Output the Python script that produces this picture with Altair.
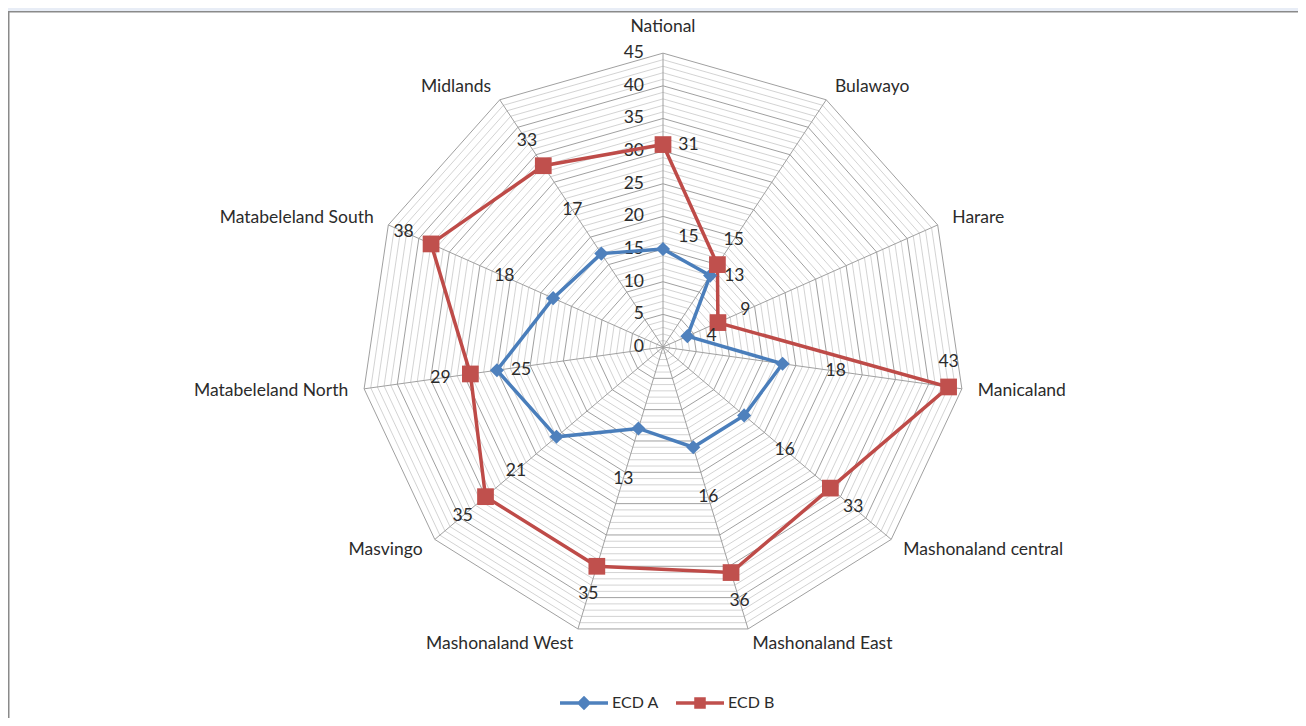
import altair as alt
import pandas as pd

# ---------------- data ----------------
categories = [
    "National", "Bulawayo", "Harare", "Manicaland", "Mashonaland central",
    "Mashonaland East", "Mashonaland West", "Masvingo", "Matabeleland North",
    "Matabeleland South", "Midlands",
]
ecd_a = [15, 13, 4, 18, 16, 16, 13, 21, 25, 18, 17]
ecd_b = [31, 15, 9, 43, 33, 36, 35, 35, 29, 38, 33]
series_names = ["ECD A", "ECD B"]
tick_values = [0, 5, 10, 15, 20, 25, 30, 35, 40, 45]
ring_values = list(range(1, 46))

# ---------------- style / layout ----------------
series_colors = ["#4A7EBB", "#BE4B48"]
marker_colors = ["#4F81BD", "#C0504D"]
FONT = "Lato"
FS = 17.5
TXT = "#2b2b2b"
W, H = 1290, 710
CX, CY = 655, 339          # centre of the radar inside the chart
PX, PY = 6.71, 6.53        # pixels per value unit (x, y)
N = len(categories)
RMAX = max(tick_values)

x_scale = alt.Scale(domain=[-CX / PX, (W - CX) / PX], nice=False, zero=False)
y_scale = alt.Scale(domain=[-(H - CY) / PY, CY / PY], nice=False, zero=False)
ANG = f"2*PI*datum.idx/{N}"


def xy(xf, yf):
    return dict(
        x=alt.X(f"{xf}:Q", scale=x_scale, axis=None),
        y=alt.Y(f"{yf}:Q", scale=y_scale, axis=None),
    )


# ---------------- tables built from the lists ----------------
series_rows = []
for s, vals in zip(series_names, [ecd_a, ecd_b]):
    for k in range(N + 1):
        series_rows.append({"series": s, "order": k, "idx": k % N,
                            "value": vals[k % N], "category": categories[k % N]})
series_df = pd.DataFrame(series_rows)

ring_rows = []
for r in ring_values:
    for k in range(N + 1):
        ring_rows.append({"ring": r, "order": k, "idx": k % N, "major": r % 5 == 0})
ring_df = pd.DataFrame(ring_rows)

cat_df = pd.DataFrame({"idx": list(range(N)), "category": categories,
                       "a": ecd_a, "b": ecd_b})
tick_df = pd.DataFrame({"tick": tick_values})

# ---------------- grid ----------------
def ring_layer(flt, color, width):
    return (
        alt.Chart(ring_df)
        .transform_filter(flt)
        .transform_calculate(x=f"datum.ring*sin({ANG})", y=f"datum.ring*cos({ANG})")
        .mark_line(color=color, strokeWidth=width)
        .encode(**xy("x", "y"), detail="ring:N", order="order:Q")
    )


minor = ring_layer("!datum.major", "#c8c8c8", 0.8)
major = ring_layer("datum.major", "#a0a0a0", 1)

spokes = (
    alt.Chart(cat_df)
    .transform_calculate(x0="0", y0="0",
                         x1=f"{RMAX}*sin({ANG})", y1=f"{RMAX}*cos({ANG})")
    .mark_rule(color="#a0a0a0", strokeWidth=1)
    .encode(**xy("x0", "y0"), x2="x1:Q", y2="y1:Q")
)

ticks = (
    alt.Chart(tick_df)
    .transform_calculate(x="0")
    .mark_text(align="right", baseline="middle", dx=-19, font=FONT,
               fontSize=FS, color=TXT)
    .encode(**xy("x", "tick"), text="tick:Q")
)

cat_base = (
    alt.Chart(cat_df)
    .transform_calculate(s=f"sin({ANG})", c=f"cos({ANG})")
    .transform_calculate(lr="datum.idx == 0 ? 49 : 47.4")
    .transform_calculate(lx="datum.lr*datum.s", ly="datum.lr*datum.c")
)


def cat_layer(flt, align):
    return (
        cat_base.transform_filter(flt)
        .mark_text(align=align, baseline="middle", font=FONT, fontSize=FS, color=TXT)
        .encode(**xy("lx", "ly"), text="category:N")
    )


cat_left = cat_layer("datum.s > 0.01", "left")
cat_right = cat_layer("datum.s < -0.01", "right")
cat_center = cat_layer("abs(datum.s) <= 0.01", "center")

# ---------------- series ----------------
series_layers = []
for s, col in zip(series_names, series_colors):
    series_layers.append(
        alt.Chart(series_df)
        .transform_filter(f"datum.series == '{s}'")
        .transform_calculate(x=f"datum.value*sin({ANG})", y=f"datum.value*cos({ANG})")
        .mark_line(color=col, strokeWidth=3.5)
        .encode(**xy("x", "y"), order="order:Q")
    )

point_layers = []
for s, col, shp, size in zip(series_names, marker_colors, ["diamond", "square"], [200, 280]):
    point_layers.append(
        alt.Chart(series_df)
        .transform_filter(f"datum.series == '{s}' && datum.order < {N}")
        .transform_calculate(x=f"datum.value*sin({ANG})", y=f"datum.value*cos({ANG})")
        .mark_point(shape=shp, filled=True, size=size, color=col, opacity=1)
        .encode(**xy("x", "y"))
    )

lab_base = alt.Chart(cat_df).transform_calculate(s=f"sin({ANG})", c=f"cos({ANG})")

lab_b = (
    lab_base.transform_calculate(
        lx="datum.idx == 0 ? datum.b*datum.s + 3.8 : (datum.b + 4.5 <= 45 ? (datum.b + 4.5)*datum.s : datum.b*datum.s)",
        ly="datum.idx == 0 ? datum.b*datum.c : (datum.b + 4.5 <= 45 ? (datum.b + 4.5)*datum.c : datum.b*datum.c + 3.8)",
    )
    .mark_text(align="center", baseline="middle", font=FONT, fontSize=FS, color=TXT)
    .encode(**xy("lx", "ly"), text="b:Q")
)

lab_a = (
    lab_base.transform_calculate(gap="datum.b - datum.a")
    .transform_calculate(
        lx="datum.idx == 0 ? datum.a*datum.s + 3.8 : (datum.gap >= 10 ? (datum.a + 8)*datum.s : datum.a*datum.s + 3.6)",
        ly="datum.idx == 0 ? datum.a*datum.c + 1.8 : (datum.gap >= 10 ? (datum.a + 8)*datum.c : datum.a*datum.c)",
    )
    .mark_text(align="center", baseline="middle", font=FONT, fontSize=FS, color=TXT)
    .encode(**xy("lx", "ly"), text="a:Q")
)

# ---------------- legend (line + marker symbols) ----------------
path_a = "M-1,-0.075H1V0.075H-1Z M0,-0.3L0.3,0L0,0.3L-0.3,0Z"
path_b = "M-1,-0.075H1V0.075H-1Z M-0.24,-0.24H0.24V0.24H-0.24Z"
leg = alt.Legend(
    title=None, orient="none", legendX=552, legendY=671, direction="horizontal",
    symbolSize=2304, symbolStrokeWidth=0, symbolOpacity=1,
    labelFont=FONT, labelFontSize=16, labelColor=TXT, labelOffset=4,
    columnPadding=17, padding=0,
)
legend_layer = (
    alt.Chart(series_df)
    .transform_filter("false")
    .mark_point(filled=True, opacity=1)
    .encode(
        **xy("value", "value"),
        color=alt.Color("series:N", scale=alt.Scale(domain=series_names, range=marker_colors), legend=leg),
        shape=alt.Shape("series:N", scale=alt.Scale(domain=series_names, range=[path_a, path_b]), legend=leg),
    )
)

# ---------------- window frame ----------------
frame_data = alt.Data(values=[{"k": 0}])
band = alt.Chart(frame_data).mark_rect(color="#E8EDF6").encode(
    x=alt.value(0), x2=alt.value(W), y=alt.value(0), y2=alt.value(3))
top_line = alt.Chart(frame_data).mark_rule(color="#8a8a8a", strokeWidth=1.5).encode(
    x=alt.value(0), x2=alt.value(W), y=alt.value(3.75))
left_line = alt.Chart(frame_data).mark_rule(color="#8a8a8a", strokeWidth=1.5).encode(
    x=alt.value(0.75), y=alt.value(3), y2=alt.value(H))

chart = alt.layer(
    minor, major, spokes, ticks, cat_left, cat_right, cat_center,
    *series_layers, *point_layers, lab_a, lab_b, legend_layer,
    band, top_line, left_line,
).properties(
    width=W, height=H, padding=0,
    autosize=alt.AutoSizeParams(type="none"),
).configure_view(stroke=None)

chart.save("out.html", embed_options={"renderer": "svg", "actions": False})
